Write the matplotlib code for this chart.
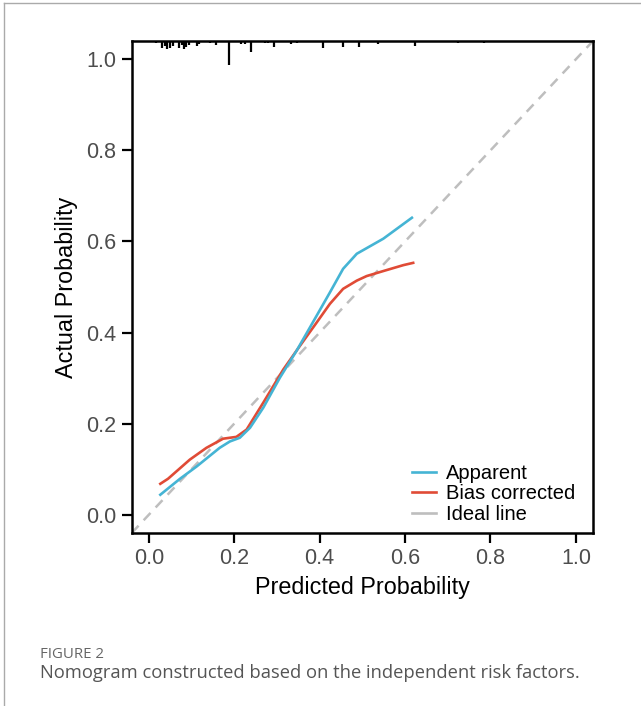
import matplotlib
matplotlib.use("Agg")
import matplotlib.pyplot as plt
from matplotlib.lines import Line2D
import numpy as np

# ---- data ----
apparent_x = [0.027, 0.073, 0.112, 0.166, 0.190, 0.213, 0.237, 0.268, 0.307, 0.346,
              0.393, 0.424, 0.455, 0.487, 0.549, 0.616]
apparent_y = [0.044, 0.079, 0.106, 0.147, 0.161, 0.169, 0.191, 0.235, 0.301, 0.360,
              0.437, 0.488, 0.540, 0.573, 0.606, 0.652]

bias_x = [0.027, 0.045, 0.096, 0.135, 0.174, 0.205, 0.229, 0.268, 0.315, 0.354,
          0.393, 0.424, 0.455, 0.487, 0.510, 0.549, 0.596, 0.619]
bias_y = [0.068, 0.079, 0.121, 0.147, 0.167, 0.171, 0.187, 0.246, 0.319, 0.371,
          0.422, 0.463, 0.496, 0.514, 0.524, 0.535, 0.548, 0.553]

rug_x = [0.018, 0.032, 0.037, 0.043, 0.049, 0.056, 0.071, 0.077, 0.083, 0.088, 0.094,
         0.112, 0.118, 0.143, 0.157, 0.187, 0.217, 0.225, 0.239, 0.272, 0.280, 0.294,
         0.333, 0.346, 0.409, 0.455, 0.493, 0.537, 0.623, 0.724, 0.785]
rug_len = [0.005, 0.016, 0.011, 0.018, 0.016, 0.011, 0.016, 0.009, 0.018, 0.013, 0.009,
           0.011, 0.007, 0.005, 0.009, 0.053, 0.007, 0.007, 0.024, 0.005, 0.005, 0.013,
           0.007, 0.005, 0.015, 0.013, 0.013, 0.007, 0.011, 0.004, 0.004]

ticks = [0.0, 0.2, 0.4, 0.6, 0.8, 1.0]
tick_labels = ["0.0", "0.2", "0.4", "0.6", "0.8", "1.0"]
lims = [-0.04, 1.04]
legend_labels = ["Apparent", "Bias corrected", "Ideal line"]

plt.rcParams['font.family'] = ['Liberation Sans', 'DejaVu Sans']

fig = plt.figure(figsize=(6.41, 7.06), dpi=100)
ax = fig.add_axes([131.7/641, 1 - 533/706, (593 - 131.7)/641, (533 - 41)/706])

blue = "#45B4D4"
red = "#E04B36"
gray = "#BEBEBE"

ax.plot(lims, lims, color=gray, lw=1.8, dashes=(4, 3), zorder=1)
ax.plot(apparent_x, apparent_y, color=blue, lw=1.9, zorder=3)
ax.plot(bias_x, bias_y, color=red, lw=1.9, zorder=2)

top = lims[1]
ax.vlines(rug_x, [top - l for l in rug_len], top, color="black", lw=1.6, zorder=4)

ax.set_xlim(lims)
ax.set_ylim(lims)
ax.set_xticks(ticks)
ax.set_xticklabels(tick_labels)
ax.set_yticks(ticks)
ax.set_yticklabels(tick_labels)
ax.tick_params(axis='both', length=7, width=1.6, labelsize=15.5, labelcolor="#4D4D4D",
               pad=4)
for s in ax.spines.values():
    s.set_linewidth(1.8)
    s.set_color("black")

ax.set_xlabel("Predicted Probability", fontsize=16.8, labelpad=5)
ax.set_ylabel("Actual Probability", fontsize=16.8, labelpad=6)

handles = [Line2D([], [], color=blue, lw=1.9),
           Line2D([], [], color=red, lw=1.9),
           Line2D([], [], color=gray, lw=1.9)]
fig.legend(handles, legend_labels, loc="lower left",
           bbox_to_anchor=(412/641, 1 - 524/706), bbox_transform=fig.transFigure,
           frameon=False, fontsize=14.5, handlelength=1.2, handletextpad=0.5,
           labelspacing=0.08, borderpad=0, borderaxespad=0)

# caption
fig.text(40/641, 1 - 655/706, "FIGURE 2", fontsize=10.8, color="#666666",
         family=["Open Sans", "DejaVu Sans"], va="center")
fig.text(40/641, 1 - 673/706, "Nomogram constructed based on the independent risk factors.",
         fontsize=13.2, color="#555555", family=["Open Sans", "DejaVu Sans"], va="center")

# page border lines
fig.add_artist(Line2D([4/641, 1.0], [1 - 3/706, 1 - 3/706], transform=fig.transFigure,
                      color="#AAAAAA", lw=1.0))
fig.add_artist(Line2D([4/641, 4/641], [0.0, 1 - 3/706], transform=fig.transFigure,
                      color="#AAAAAA", lw=1.0))

fig.savefig("out.png", dpi=100)
